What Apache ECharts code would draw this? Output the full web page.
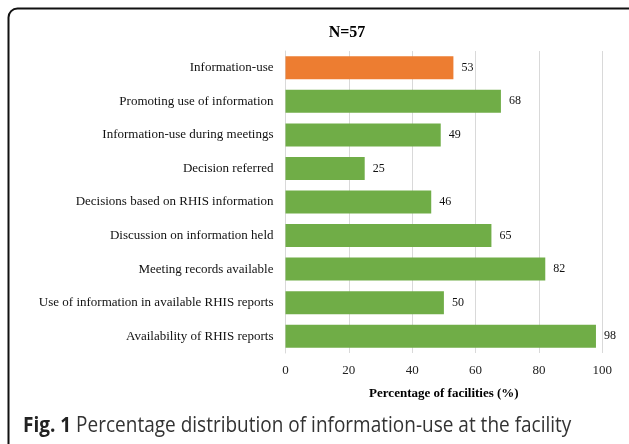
<!DOCTYPE html>
<html>
<head>
<meta charset="utf-8">
<script src="https://cdn.jsdelivr.net/npm/echarts@6/dist/echarts.min.js"></script>
<style>
html,body{margin:0;padding:0;background:#fff;}
#main{width:629px;height:444px;}
</style>
</head>
<body>
<div id="main"></div>
<script>
var categories = [
  "Information-use",
  "Promoting use of information",
  "Information-use during meetings",
  "Decision referred",
  "Decisions based on RHIS information",
  "Discussion on information held",
  "Meeting records available",
  "Use of information in available RHIS reports",
  "Availability of RHIS reports"
];
var values = [53, 68, 49, 25, 46, 65, 82, 50, 98];
var highlightIndex = 0;
var xTicks = [0, 20, 40, 60, 80, 100];

var chart = echarts.init(document.getElementById('main'), null, {renderer: 'canvas'});
var serif = '"Liberation Serif", "Times New Roman", serif';
chart.setOption({
  animation: false,
  backgroundColor: '#fff',
  title: {
    text: 'N=57',
    left: 342, top: 20, textAlign: 'center',
    textStyle: {fontFamily: serif, fontWeight: 'bold', fontSize: 16, color: '#000'}
  },
  grid: {left: 285.5, right: 26.7, top: 51, bottom: 91, containLabel: false},
  xAxis: {
    type: 'value', min: xTicks[0], max: xTicks[xTicks.length - 1], interval: 20,
    axisLine: {show: false}, axisTick: {show: false},
    axisLabel: {fontFamily: serif, fontSize: 13, color: '#222', margin: 11},
    splitLine: {lineStyle: {color: '#d9d9d9', width: 1}},
    name: 'Percentage of facilities (%)', nameLocation: 'middle', nameGap: 34,
    nameTextStyle: {fontFamily: serif, fontWeight: 'bold', fontSize: 13, color: '#000'}
  },
  yAxis: {
    type: 'category', data: categories, inverse: true,
    axisLine: {show: true, lineStyle: {color: '#d9d9d9'}}, axisTick: {show: false},
    axisLabel: {fontFamily: serif, fontSize: 13, color: '#111', margin: 12}
  },
  series: [{
    type: 'bar', barWidth: 23,
    data: values.map(function (v, i) {
      return {value: v, itemStyle: {color: i === highlightIndex ? '#ED7D31' : '#70AD47'}};
    }),
    label: {show: true, position: 'right', distance: 8, fontFamily: serif, fontSize: 12, color: '#111'}
  }],
  graphic: [
    {type: 'rect', shape: {x: 8.5, y: 8.5, width: 630, height: 460, r: 9},
     style: {fill: null, stroke: '#111', lineWidth: 2}, z: 10},
    {type: 'text', x: 23, y: 426, scaleY: 1.15,
     style: {
       text: '{b|Fig. 1} Percentage distribution of information-use at the facility',
       verticalAlign: 'middle',
       rich: {
         b: {fontFamily: '"Open Sans", sans-serif', fontWeight: 'bold', fontSize: 19, fill: '#222'}
       },
       fontFamily: '"Open Sans", sans-serif', fontSize: 19, fill: '#333'
     }}
  ]
});
</script>
</body>
</html>
